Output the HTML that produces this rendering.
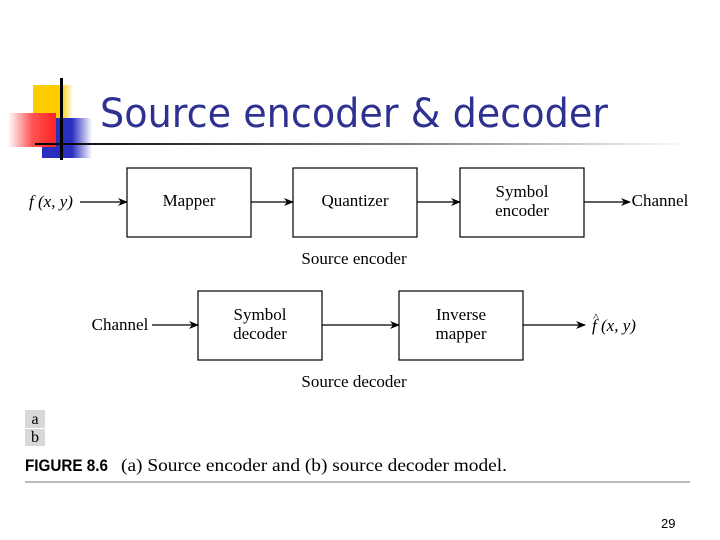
<!DOCTYPE html>
<html><head><style>body{margin:0;background:#fff}svg{display:block}</style></head><body>
<svg width="720" height="540" xmlns="http://www.w3.org/2000/svg">
<defs>
<linearGradient id="hl" x1="0" x2="1"><stop offset="0" stop-color="#000"/><stop offset="0.6" stop-color="#888"/><stop offset="1" stop-color="#fff"/></linearGradient>
<linearGradient id="bl" x1="0" x2="1"><stop offset="0" stop-color="#2b2fc0"/><stop offset="0.6" stop-color="#2b2fc0"/><stop offset="1" stop-color="#fff"/></linearGradient>
<linearGradient id="rd" x1="1" x2="0"><stop offset="0" stop-color="#f22"/><stop offset="0.5" stop-color="#f55"/><stop offset="1" stop-color="#fff"/></linearGradient>
<linearGradient id="yl" x1="0" x2="1"><stop offset="0" stop-color="#fc0"/><stop offset="0.7" stop-color="#fc0"/><stop offset="1" stop-color="#fff"/></linearGradient>
<marker id="ar" markerWidth="10" markerHeight="8" refX="9" refY="4" orient="auto" markerUnits="userSpaceOnUse"><path d="M0,0 L10,4 L0,8 L3,4z" fill="#000"/></marker>
</defs>
<rect x="33" y="85" width="40" height="33" fill="url(#yl)"/>
<rect x="42" y="118" width="50" height="40" fill="url(#bl)"/>
<rect x="8" y="113" width="48" height="34" fill="url(#rd)"/>
<rect x="60" y="78" width="3" height="82" fill="#000"/>
<rect x="35" y="143" width="655" height="2" fill="url(#hl)"/>
<text x="100" y="127" font-family="DejaVu Sans, sans-serif" font-size="40" fill="#2e3190" textLength="508" lengthAdjust="spacingAndGlyphs">Source encoder &amp; decoder</text>
<g fill="none" stroke="#000" stroke-width="1.2">
<rect x="127" y="168" width="124" height="69"/>
<rect x="293" y="168" width="124" height="69"/>
<rect x="460" y="168" width="124" height="69"/>
<rect x="198" y="291" width="124" height="69"/>
<rect x="399" y="291" width="124" height="69"/>
<line x1="80" y1="202" x2="127" y2="202" marker-end="url(#ar)"/>
<line x1="251" y1="202" x2="293" y2="202" marker-end="url(#ar)"/>
<line x1="417" y1="202" x2="460" y2="202" marker-end="url(#ar)"/>
<line x1="584" y1="202" x2="630" y2="202" marker-end="url(#ar)"/>
<line x1="152" y1="325" x2="198" y2="325" marker-end="url(#ar)"/>
<line x1="322" y1="325" x2="399" y2="325" marker-end="url(#ar)"/>
<line x1="523" y1="325" x2="585" y2="325" marker-end="url(#ar)"/>
</g>
<g font-family="Liberation Serif, serif" font-size="17" fill="#000" text-anchor="middle">
<text x="189" y="206">Mapper</text>
<text x="355" y="206">Quantizer</text>
<text x="522" y="197">Symbol</text>
<text x="522" y="216">encoder</text>
<text x="260" y="320">Symbol</text>
<text x="260" y="339">decoder</text>
<text x="461" y="320">Inverse</text>
<text x="461" y="339">mapper</text>
<text x="354" y="264">Source encoder</text>
<text x="354" y="387">Source decoder</text>
<text x="120" y="330">Channel</text>
<text x="660" y="206">Channel</text>
<text x="51" y="207" font-style="italic">f (x, y)</text>
<text x="614" y="331" font-style="italic">f (x, y)</text>
<text x="596" y="321" font-size="12">^</text>
</g>
<rect x="25" y="410" width="20" height="18" fill="#d8d8d8"/>
<rect x="25" y="429" width="20" height="17" fill="#d8d8d8"/>
<text x="35" y="424" font-family="Liberation Serif, serif" font-size="16" text-anchor="middle">a</text>
<text x="35" y="442" font-family="Liberation Serif, serif" font-size="16" text-anchor="middle">b</text>
<text x="25" y="471" font-family="Liberation Sans, sans-serif" font-weight="bold" font-size="17" textLength="83" lengthAdjust="spacingAndGlyphs">FIGURE 8.6</text>
<text x="121" y="471" font-family="Liberation Serif, serif" font-size="18" textLength="386" lengthAdjust="spacingAndGlyphs">(a) Source encoder and (b) source decoder model.</text>
<rect x="25" y="481" width="665" height="2" fill="#bbb"/>
<text x="661" y="528" font-family="Liberation Sans, sans-serif" font-size="13">29</text>
</svg>
</body></html>
